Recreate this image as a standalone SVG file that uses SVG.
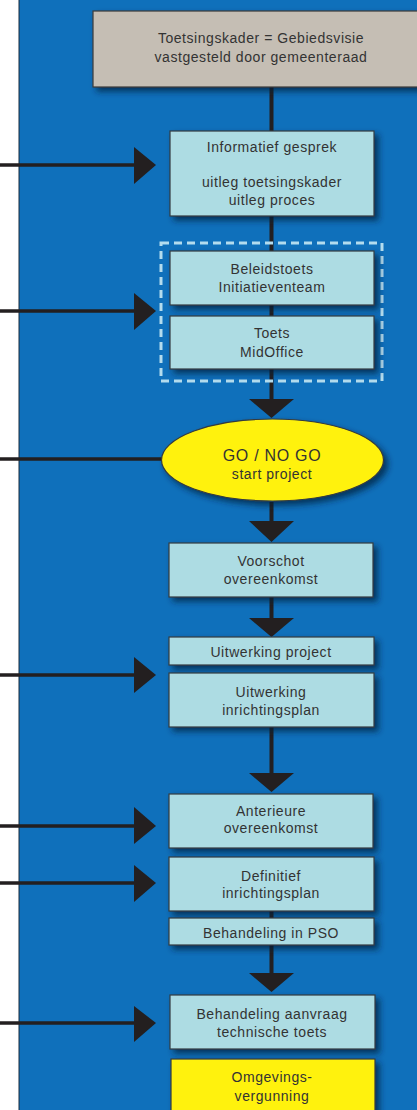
<svg xmlns="http://www.w3.org/2000/svg" width="417" height="1110" viewBox="0 0 417 1110">
  <style>
    .t { font-family: "Liberation Sans", Arial, sans-serif; font-size: 14px; letter-spacing: 0.55px; fill: #333333; text-anchor: middle; }
    .go { font-size: 16px; letter-spacing: 0.7px; }
    .box { fill: #addce3; stroke: #333a40; stroke-width: 1.2; filter: url(#shadow); }
    .yel { fill: #fff20a; stroke: #333a40; stroke-width: 1.2; filter: url(#shadow); }
    .gray { fill: #c5beb4; stroke: #3a3a3a; stroke-width: 1.2; filter: url(#shadow); }
    .line { stroke: #231f20; stroke-width: 4; fill: none; }
    .hline { stroke: #231f20; stroke-width: 3.5; fill: none; }
    .head { fill: #231f20; }
  </style>
  <defs>
    <filter id="shadow" x="-10%" y="-20%" width="130%" height="160%">
      <feDropShadow dx="4" dy="4" stdDeviation="3" flood-color="#06203d" flood-opacity="0.75"/>
    </filter>
  </defs>

  <!-- page background -->
  <rect x="0" y="0" width="417" height="1110" fill="#ffffff"/>
  <rect x="19" y="0" width="398" height="1110" fill="#0f70bb"/>
  <line x1="19" y1="0" x2="19" y2="1110" stroke="#1a2a3a" stroke-width="1"/>

  <!-- connectors -->
  <g id="connectors">
    <path class="line" d="M271.5 87V131 M271.5 216V251 M271.5 305V316 M271.5 369V400 M271.5 502V522 M271.5 597V619 M271.5 727V774 M271.5 911V918 M271.5 945V974"/>
    <polygon class="head" points="249,399 294,399 271.5,418"/>
    <polygon class="head" points="249,521 294,521 271.5,542"/>
    <polygon class="head" points="249,618 294,618 271.5,637"/>
    <polygon class="head" points="249,773 294,773 271.5,792"/>
    <polygon class="head" points="249,973 294,973 271.5,992"/>

    <path class="hline" d="M0 165H140 M0 311H140 M0 459H163 M0 675H140 M0 826H140 M0 883H140 M0 1023H140"/>
    <polygon class="head" points="134,147 156,165 134,184"/>
    <polygon class="head" points="134,293 156,311 134,330"/>
    <polygon class="head" points="134,657 156,675 134,693"/>
    <polygon class="head" points="134,807 156,826 134,844"/>
    <polygon class="head" points="134,865 156,883 134,902"/>
    <polygon class="head" points="134,1006 156,1023 134,1042"/>
  </g>

  <g id="toetsingskader">
    <rect class="gray" x="93" y="11" width="330" height="76"/>
    <text class="t" x="261" y="43">Toetsingskader = Gebiedsvisie</text>
    <text class="t" x="261" y="62">vastgesteld door gemeenteraad</text>
  </g>

  <g id="informatief">
    <rect class="box" x="170" y="131" width="204" height="85"/>
    <text class="t" x="272" y="152">Informatief gesprek</text>
    <text class="t" x="272" y="187">uitleg toetsingskader</text>
    <text class="t" x="272" y="205">uitleg proces</text>
  </g>

  <g id="toetsgroep">
    <rect x="161" y="243" width="221" height="138" fill="none" stroke="#b3dcee" stroke-width="3" stroke-dasharray="8,5"/>
  </g>

  <g id="beleidstoets">
    <rect class="box" x="170" y="251" width="204" height="54"/>
    <text class="t" x="272" y="274">Beleidstoets</text>
    <text class="t" x="272" y="292">Initiatieventeam</text>
  </g>

  <g id="midoffice">
    <rect class="box" x="170" y="316" width="204" height="53"/>
    <text class="t" x="272" y="338">Toets</text>
    <text class="t" x="272" y="357">MidOffice</text>
  </g>

  <g id="gonogo">
    <ellipse class="yel" cx="272.5" cy="460" rx="111" ry="41"/>
    <text class="t go" x="272" y="461">GO / NO GO</text>
    <text class="t" x="272" y="479">start project</text>
  </g>

  <g id="voorschot">
    <rect class="box" x="169" y="543" width="204" height="54"/>
    <text class="t" x="271" y="566">Voorschot</text>
    <text class="t" x="271" y="584">overeenkomst</text>
  </g>

  <g id="uitwerking-project">
    <rect class="box" x="169" y="637" width="205" height="28"/>
    <text class="t" x="271" y="657">Uitwerking project</text>
  </g>

  <g id="uitwerking-inrichtingsplan">
    <rect class="box" x="169" y="673" width="205" height="54"/>
    <text class="t" x="271" y="697">Uitwerking</text>
    <text class="t" x="271" y="715">inrichtingsplan</text>
  </g>

  <g id="anterieure">
    <rect class="box" x="169" y="794" width="204" height="54"/>
    <text class="t" x="271" y="816">Anterieure</text>
    <text class="t" x="271" y="833">overeenkomst</text>
  </g>

  <g id="definitief">
    <rect class="box" x="169" y="857" width="205" height="54"/>
    <text class="t" x="271" y="881">Definitief</text>
    <text class="t" x="271" y="898">inrichtingsplan</text>
  </g>

  <g id="pso">
    <rect class="box" x="169" y="918" width="205" height="27"/>
    <text class="t" x="271" y="938">Behandeling in PSO</text>
  </g>

  <g id="aanvraag">
    <rect class="box" x="170" y="995" width="205" height="54"/>
    <text class="t" x="272" y="1019">Behandeling aanvraag</text>
    <text class="t" x="272" y="1037">technische toets</text>
  </g>

  <g id="omgevingsvergunning">
    <rect class="yel" x="171" y="1059" width="204" height="60"/>
    <text class="t" x="272" y="1082">Omgevings-</text>
    <text class="t" x="272" y="1101">vergunning</text>
  </g>
</svg>
